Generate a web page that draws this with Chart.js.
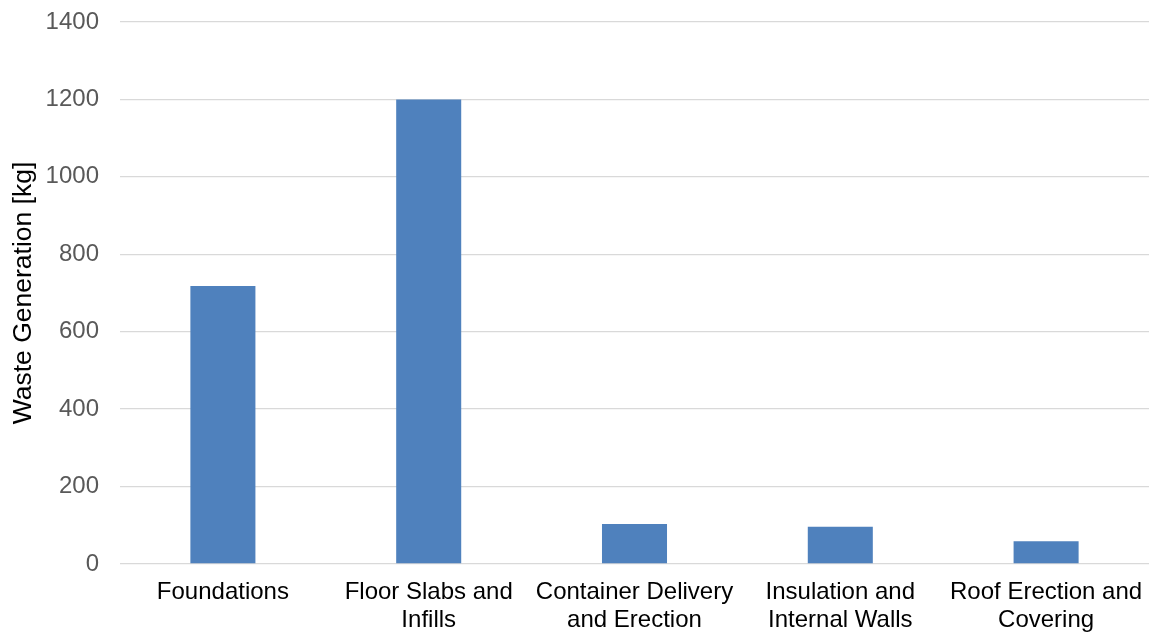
<!DOCTYPE html>
<html>
<head>
<meta charset="utf-8">
<script src="https://cdn.jsdelivr.net/npm/chart.js@4/dist/chart.umd.min.js"></script>
<style>
  html, body { margin: 0; padding: 0; background: #fff; }
</style>
</head>
<body>
<canvas id="wasteChart" width="1151" height="633"></canvas>
<script>
// Données
const categories = [
    'Foundations',
    ['Floor Slabs and', 'Infills'],
    ['Container Delivery', 'and Erection'],
    ['Insulation and', 'Internal Walls'],
    ['Roof Erection and', 'Covering']
];
const wasteValues = [718, 1200, 103, 96, 59];
const yTicks = [0, 200, 400, 600, 800, 1000, 1200, 1400];

const ctx = document.getElementById('wasteChart').getContext('2d');

new Chart(ctx, {
    type: 'bar',
    data: {
        labels: categories,
        datasets: [{
            label: 'Waste Generation [kg]',
            data: wasteValues,
            backgroundColor: '#4F81BD',
            borderWidth: 0,
            categoryPercentage: 1,
            barPercentage: 0.316
        }]
    },
    options: {
        responsive: false,
        animation: false,
        layout: {
            padding: { top: 22, right: 2, left: 0, bottom: 0 }
        },
        plugins: {
            legend: { display: false },
            tooltip: { enabled: false }
        },
        scales: {
            x: {
                grid: { display: false, drawTicks: false },
                border: { display: false },
                ticks: {
                    color: '#000',
                    font: { family: 'Liberation Sans', size: 24, lineHeight: 1.17 },
                    padding: 14,
                    maxRotation: 0,
                    autoSkip: false
                },
                afterFit: function(scale) {
                    scale.height = 69;
                    scale.paddingLeft = 0;
                    scale.paddingRight = 0;
                }
            },
            y: {
                min: 0,
                max: 1400,
                afterBuildTicks: function(scale) {
                    scale.ticks = yTicks.map(v => ({ value: v }));
                },
                grid: { color: '#D9D9D9', lineWidth: 1.3, drawTicks: false },
                border: { display: false },
                ticks: {
                    color: '#595959',
                    font: { family: 'Liberation Sans', size: 24 },
                    padding: 21,
                    callback: function(value) { return String(value); }
                },
                title: {
                    display: true,
                    text: 'Waste Generation [kg]',
                    color: '#000',
                    font: { family: 'Liberation Sans', size: 26.5 },
                    padding: { top: 8, bottom: 0 }
                },
                afterFit: function(scale) {
                    scale.width = 120;
                    scale.paddingTop = 0;
                    scale.paddingBottom = 0;
                }
            }
        }
    }
});
</script>
</body>
</html>
